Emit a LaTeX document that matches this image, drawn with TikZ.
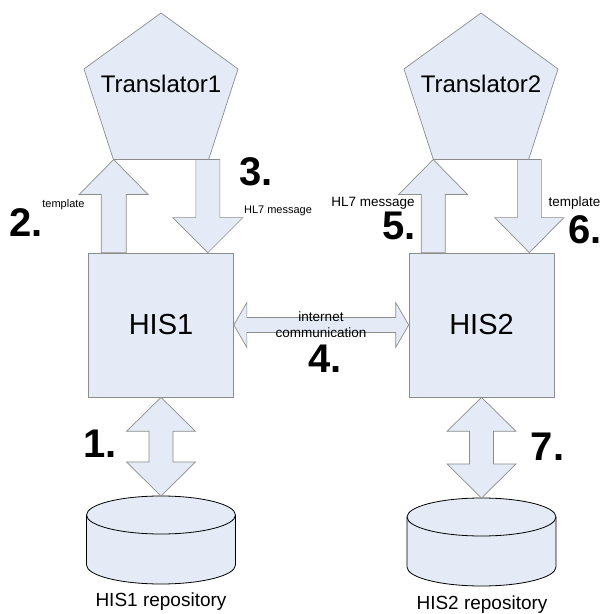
\documentclass[tikz,border=0pt]{standalone}
\usepackage{fontspec}
\setmainfont{Liberation Sans}
\usetikzlibrary{shapes.geometric,calc}

\definecolor{boxfill}{RGB}{228,235,246}
\definecolor{boxline}{RGB}{140,140,140}

% block arrow: tail, tip, shaft half width, head half width, head length
\newcommand{\blockarrow}[5]{%
  \draw[arrowbox] ($(#1)!#3!90:(#2)$) -- ($(#2)!#5!(#1)!#3!-90:(#1)$)
    -- ($(#2)!#5!(#1)!#4!-90:(#1)$) -- (#2)
    -- ($(#2)!#5!(#1)!#4!90:(#1)$) -- ($(#2)!#5!(#1)!#3!90:(#1)$)
    -- ($(#1)!#3!-90:(#2)$) -- cycle;}
% two-headed block arrow between #1 and #2
\newcommand{\twowayarrow}[5]{%
  \draw[arrowbox] (#1) -- ($(#1)!#5!(#2)!#4!90:(#2)$) -- ($(#1)!#5!(#2)!#3!90:(#2)$)
    -- ($(#2)!#5!(#1)!#3!-90:(#1)$) -- ($(#2)!#5!(#1)!#4!-90:(#1)$) -- (#2)
    -- ($(#2)!#5!(#1)!#4!90:(#1)$) -- ($(#2)!#5!(#1)!#3!90:(#1)$)
    -- ($(#1)!#5!(#2)!#3!-90:(#2)$) -- ($(#1)!#5!(#2)!#4!-90:(#2)$) -- cycle;}
% translator pentagon round its centre
\newcommand{\pentagon}[1]{%
  \draw[arrowbox] ($(#1)+(90:81)$) -- ($(#1)+(18:81)$) -- ($(#1)+(-54:81)$)
    -- ($(#1)+(-126:81)$) -- ($(#1)+(162:81)$) -- cycle;}
% repository drum round its top centre
\newcommand{\drum}[1]{%
  \draw[drumline] ($(#1)+(-74.5,0)$) -- ++(0,-50)
    arc[start angle=180,end angle=360,x radius=74.5,y radius=19] -- ++(0,50)
    arc[start angle=0,end angle=180,x radius=74.5,y radius=19] -- cycle;
  \draw[drumline,fill=none] ($(#1)+(-74.5,0)$)
    arc[start angle=180,end angle=360,x radius=74.5,y radius=19];}

\begin{document}
\begin{tikzpicture}[x=1pt,y=1pt,
    arrowbox/.style={draw=boxline,fill=boxfill,line width=0.7pt},
    drumline/.style={draw=black,fill=boxfill,line width=0.8pt},
    his/.style={rectangle,minimum width=145pt,minimum height=144pt,inner sep=0pt,
      draw=boxline,fill=boxfill,line width=0.7pt,font=\fontsize{29}{31}\selectfont},
    bignum/.style={inner sep=0pt,font=\fontsize{40}{42}\selectfont\bfseries},
    smalltxt/.style={inner sep=0pt,font=\fontsize{11}{13}\selectfont},
    midtxt/.style={inner sep=0pt,font=\fontsize{13.5}{16}\selectfont},
    titletxt/.style={inner sep=0pt,font=\fontsize{24}{26}\selectfont},
    repotxt/.style={inner sep=0pt,font=\fontsize{19}{21}\selectfont}]
  \useasboundingbox (0,0) rectangle (608,614);

  % Translators
  \coordinate (c1) at (161,520);
  \coordinate (c2) at (481,520);
  \pentagon{c1}
  \pentagon{c2}
  \node[titletxt] (tr1) at (161,530) {Translator1};
  \node[titletxt] (tr2) at (481,530) {Translator2};

  % HIS boxes
  \node[his] (his1) at (161,289) {HIS1};
  \node[his] (his2) at (481.5,289) {HIS2};

  % Repositories
  \coordinate (db1) at (161,99);
  \coordinate (db2) at (481.5,97);
  \drum{db1}
  \drum{db2}
  \coordinate (db1top) at ($(db1)+(0,19)$);
  \coordinate (db2top) at ($(db2)+(0,19)$);
  \node[repotxt] (rp1) at (161,12) {HIS1 repository};
  \node[repotxt] (rp2) at (482,9) {HIS2 repository};

  % Arrow ends
  \coordinate (tr1bot) at ($(c1)+(-126:81)$);
  \coordinate (tr2bot) at ($(c2)+(-126:81)$);
  \coordinate (a2t) at ([xshift=25.5pt]his1.north west);
  \coordinate (a2h) at (a2t |- tr1bot);
  \coordinate (a3h) at ([xshift=-26pt]his1.north east);
  \coordinate (a3t) at (a3h |- tr1bot);
  \coordinate (a5t) at ([xshift=24.5pt]his2.north west);
  \coordinate (a5h) at (a5t |- tr2bot);
  \coordinate (a6h) at ([xshift=-25pt]his2.north east);
  \coordinate (a6t) at (a6h |- tr2bot);

  % Block arrows
  \blockarrow{a2t}{a2h}{12.5pt}{34.5pt}{35pt}
  \blockarrow{a3t}{a3h}{12pt}{35pt}{35pt}
  \blockarrow{a5t}{a5h}{12pt}{34.5pt}{35pt}
  \blockarrow{a6t}{a6h}{12pt}{34.5pt}{35pt}
  \twowayarrow{his1.east}{his2.west}{7.5pt}{22.5pt}{13pt}
  \twowayarrow{his1.south}{his1.south |- db1top}{12pt}{34.5pt}{34pt}
  \twowayarrow{his2.south}{his2.south |- db2top}{12pt}{34.5pt}{34pt}

  % Labels
  \node[midtxt,align=center] (net) at (321,289) {internet\\communication};
  \node[smalltxt] (l2) at (63.5,409) {template};
  \node[smalltxt] (l3) at (278,403) {HL7 message};
  \node[midtxt] (l5) at (373,411) {HL7 message};
  \node[midtxt] (l6) at (574.5,411) {template};

  % Step numbers
  \node[bignum] (n1) at (100,170.5) {1.};
  \node[bignum] (n2) at (26,391.5) {2.};
  \node[bignum] (n3) at (256,442) {3.};
  \node[bignum] (n4) at (325,255) {4.};
  \node[bignum] (n5) at (399,388) {5.};
  \node[bignum] (n6) at (585,384) {6.};
  \node[bignum] (n7) at (547.5,167) {7.};
\end{tikzpicture}
\end{document}
